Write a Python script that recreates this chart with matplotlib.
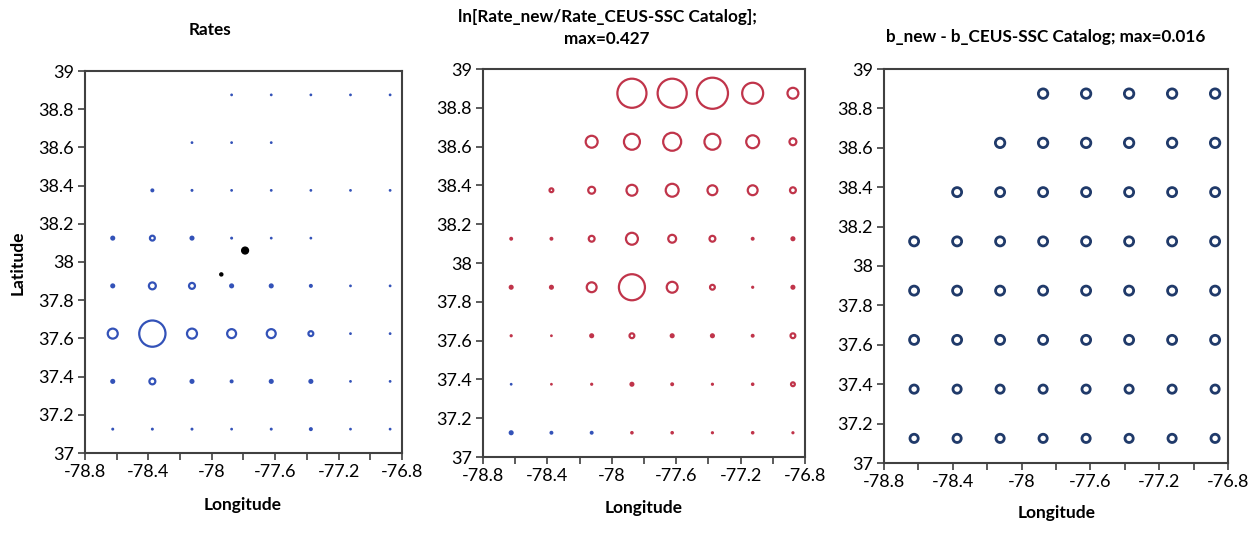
import numpy as np
import matplotlib
matplotlib.use('Agg')
import matplotlib.pyplot as plt
from matplotlib.ticker import MultipleLocator, FuncFormatter

plt.rcParams['font.family'] = ['Lato', 'DejaVu Sans']
plt.rcParams['axes.unicode_minus'] = False

# grid cell centres
lons = [-78.625, -78.375, -78.125, -77.875, -77.625, -77.375, -77.125, -76.875]
lats = [37.125, 37.375, 37.625, 37.875, 38.125, 38.375, 38.625, 38.875]
nan = np.nan

# relative seismicity rates per cell (rows = lats, cols = lons)
rates = [
    [0.011, 0.011, 0.011, 0.008, 0.011, 0.020, 0.005, 0.005],
    [0.032, 0.082, 0.032, 0.020, 0.032, 0.032, 0.005, 0.005],
    [0.184, 1.000, 0.184, 0.154, 0.154, 0.062, 0.005, 0.005],
    [0.032, 0.103, 0.082, 0.032, 0.032, 0.020, 0.005, 0.005],
    [0.032, 0.062, 0.032, 0.011, 0.008, 0.008, nan, nan],
    [nan, 0.020, 0.011, 0.008, 0.005, 0.005, 0.005, 0.005],
    [nan, nan, 0.008, 0.008, 0.005, nan, nan, nan],
    [nan, nan, nan, 0.008, 0.005, 0.005, 0.005, 0.005],
]

# earthquake epicentres (lon, lat, relative size)
eq_lon = [-77.79, -77.94]
eq_lat = [38.06, 37.935]
eq_size = [1.0, 0.2]

# ln(Rate_new / Rate_CEUS-SSC)
ln_ratio = [
    [-0.010, -0.006, -0.006, 0.005, 0.005, 0.004, 0.005, 0.004],
    [-0.0016, 0.0016, 0.004, 0.010, 0.006, 0.004, 0.005, 0.014],
    [0.004, 0.0025, 0.010, 0.019, 0.010, 0.010, 0.006, 0.019],
    [0.010, 0.010, 0.056, 0.307, 0.066, 0.019, 0.004, 0.010],
    [0.006, 0.006, 0.025, 0.077, 0.039, 0.025, 0.006, 0.010],
    [nan, 0.014, 0.032, 0.066, 0.088, 0.056, 0.056, 0.025],
    [nan, nan, 0.077, 0.127, 0.157, 0.127, 0.088, 0.032],
    [nan, nan, nan, 0.377, 0.377, 0.427, 0.207, 0.066],
]

# b_new - b_CEUS-SSC
b_diff = [
    [0.013, 0.013, 0.013, 0.013, 0.013, 0.013, 0.013, 0.013],
    [0.013, 0.013, 0.013, 0.013, 0.013, 0.013, 0.013, 0.013],
    [0.015, 0.015, 0.015, 0.015, 0.015, 0.015, 0.015, 0.015],
    [0.015, 0.015, 0.015, 0.015, 0.015, 0.015, 0.015, 0.015],
    [0.015, 0.015, 0.015, 0.015, 0.015, 0.015, 0.015, 0.015],
    [nan, 0.015, 0.015, 0.015, 0.015, 0.015, 0.015, 0.015],
    [nan, nan, 0.016, 0.016, 0.016, 0.016, 0.016, 0.016],
    [nan, nan, nan, 0.016, 0.016, 0.016, 0.016, 0.016],
]

BLUE = '#3352b8'
RED = '#c0344a'
NAVY = '#203a6a'

W, H = 1256, 544
fig = plt.figure(figsize=(W / 100, H / 100), dpi=100)


def px_axes(x0, y0, x1, y1):
    return fig.add_axes([x0 / W, 1 - y1 / H, (x1 - x0) / W, (y1 - y0) / H])


def px_text(x, y, s, **kw):
    fig.text(x / W, 1 - y / H, s, ha='center', va='center', **kw)


def flat(grid):
    X, Y = np.meshgrid(lons, lats)
    v = np.array(grid, dtype=float)
    m = ~np.isnan(v)
    return X[m], Y[m], v[m]


def style(ax):
    ax.set_xlim(-78.8, -76.8)
    ax.set_ylim(37, 39)
    ax.xaxis.set_major_locator(MultipleLocator(0.4))
    ax.xaxis.set_minor_locator(MultipleLocator(0.2))
    ax.yaxis.set_major_locator(MultipleLocator(0.2))
    fmt = FuncFormatter(lambda v, p: '%g' % round(v, 1))
    ax.xaxis.set_major_formatter(fmt)
    ax.yaxis.set_major_formatter(fmt)
    ax.tick_params(which='both', direction='out', length=5, width=1.2,
                   color='#404040', labelsize=13, pad=3)
    for sp in ax.spines.values():
        sp.set_color('#404040')
        sp.set_linewidth(1.5)


def bubbles(ax, grid, dmax_pt, vmax, lw, pos_color, neg_color=None):
    # outer diameter ~ sqrt(value); bubbles too small for a visible hole are drawn solid
    x, y, v = flat(grid)
    d = np.maximum(dmax_pt * np.sqrt(np.abs(v) / vmax), 2.0)
    cols = np.array([pos_color if val >= 0 or neg_color is None else neg_color for val in v])
    ring = d >= 2.5 * lw
    ax.scatter(x[ring], y[ring], s=(d[ring] - lw) ** 2, facecolors='none',
               edgecolors=cols[ring], linewidths=lw)
    ax.scatter(x[~ring], y[~ring], s=d[~ring] ** 2, c=cols[~ring], linewidths=0)


# Rates
ax1 = px_axes(85, 71, 402, 453)
style(ax1)
bubbles(ax1, rates, 20.5, 1.0, 1.6, BLUE)
ax1.scatter(eq_lon, eq_lat, s=np.array(eq_size) * 24, color='black', zorder=3)
px_text(210, 30, 'Rates', fontsize=12.3, fontweight='bold')
px_text(18, 263, 'Latitude', fontsize=12.5, fontweight='bold', rotation=90)
px_text(243, 505, 'Longitude', fontsize=12.5, fontweight='bold')

# log rate ratio
ax2 = px_axes(483, 69, 805, 457)
style(ax2)
bubbles(ax2, ln_ratio, 24.0, 0.427, 1.6, RED, BLUE)
px_text(607, 17, 'ln[Rate_new/Rate_CEUS-SSC Catalog];', fontsize=12.3, fontweight='bold')
px_text(607, 39, 'max=0.427', fontsize=12.3, fontweight='bold')
px_text(644, 508, 'Longitude', fontsize=12.5, fontweight='bold')

# b-value difference
ax3 = px_axes(884, 69, 1228, 463)
style(ax3)
bubbles(ax3, b_diff, 8.8, 0.016, 2.0, NAVY)
px_text(1046, 37, 'b_new - b_CEUS-SSC Catalog; max=0.016', fontsize=12.3, fontweight='bold')
px_text(1057, 513, 'Longitude', fontsize=12.5, fontweight='bold')

fig.savefig('out.png', dpi=100)
